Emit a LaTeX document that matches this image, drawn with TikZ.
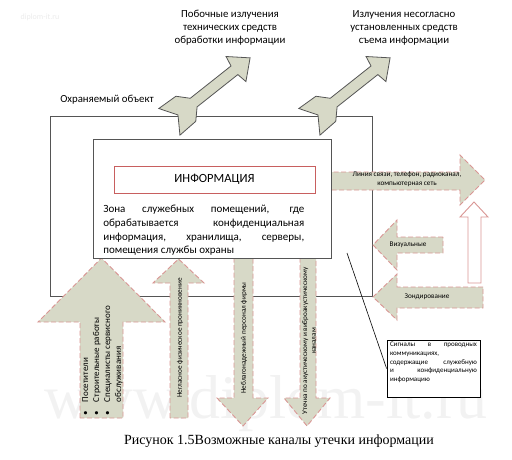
\documentclass[tikz,border=0pt]{standalone}
\usepackage{fontspec}
\setmainfont{Carlito}
\newfontfamily\capfont{Liberation Serif}
\usetikzlibrary{positioning}
\definecolor{sage}{RGB}{215,217,199}
\definecolor{rose}{RGB}{217,150,148}
\definecolor{brick}{RGB}{200,95,95}
\definecolor{frame}{RGB}{85,85,85}

\begin{document}
\begin{tikzpicture}[x=1pt,y=-1pt,semithick,
		chan/.style={fill=sage,draw=rose,line width=0.9pt,dash pattern=on 5pt off 2.5pt},
		emit/.style={fill=sage,draw=frame,line width=0.8pt},
		hollow/.style={fill=white,draw=rose,line width=0.9pt},
		chantext/.style={font=\fontsize{7.2}{8.8}\selectfont,inner sep=0pt},
		toplbl/.style={font=\fontsize{10.8}{13}\selectfont,align=center,inner sep=0pt}]
			\useasboundingbox (0,0) rectangle (512,460);
			\node[anchor=base,text=black!5,font=\capfont\fontsize{62}{62}\selectfont] (mark) at (266,418) {www.diplom-it.ru};
			\node[text=black!8,font=\fontsize{8}{9}\selectfont] (marksmall) at (40,17) {diplom-it.ru};
			\node[toplbl] (side) at (230,28) {Побочные излучения\\технических средств\\обработки информации};
			\node[toplbl] (rogue) at (404,28) {Излучения несогласно\\установленных средств\\съема информации};
			\node[toplbl] (guarded) at (107,100) {Охраняемый объект};
			\node[draw=frame,line width=1pt,minimum width=322pt,minimum height=179pt] (object) at (211,206.5) {};
			\begin{scope}[shift={(178,115)},rotate=38.4]
				\draw[emit] (92,0) -- (74,-16) -- (72,-5.5) -- (20,-5.5) -- (10,-16) -- (-11,-17) -- (0,0)
					-- (-11,17) -- (10,16) -- (20,5.5) -- (72,5.5) -- (74,16) -- cycle;
			\end{scope}
			\begin{scope}[shift={(318,115)},rotate=38.4]
				\draw[emit] (92,0) -- (74,-16) -- (72,-5.5) -- (20,-5.5) -- (10,-16) -- (-11,-17) -- (0,0)
					-- (-11,17) -- (10,16) -- (20,5.5) -- (72,5.5) -- (74,16) -- cycle;
			\end{scope}
			\draw[chan] (326,172) -- (460,172) -- (460,155) -- (485,180) -- (460,205) -- (460,190) -- (326,190) -- cycle;
			\draw[hollow] (468,283) -- (468,217) -- (460,217) -- (474,202) -- (488,217) -- (481,217) -- (481,283) -- cycle;
			\draw[chan] (443,237) -- (397,237) -- (397,220) -- (373,245) -- (397,270) -- (397,253) -- (443,253) -- cycle;
			\draw[chan] (483,287) -- (397,287) -- (397,274) -- (373,297) -- (397,320) -- (397,308) -- (483,308) -- cycle;
			\draw[chan] (80,418) -- (80,322) -- (38,322) -- (101.5,258) -- (165,322) -- (123,322) -- (123,418) -- cycle;
			\draw[chan] (170,418) -- (170,283) -- (153,283) -- (178.5,259) -- (204,283) -- (188,283) -- (188,418) -- cycle;
			\draw[chan] (234,250) -- (234,398) -- (217,398) -- (243,426) -- (268,398) -- (253,398) -- (253,250) -- cycle;
			\draw[chan] (300,250) -- (300,398) -- (284,398) -- (307,426) -- (330,398) -- (316,398) -- (316,250) -- cycle;
			\node[draw=frame,line width=1pt,fill=white,minimum width=238pt,minimum height=119pt] (zone) at (212,198.5) {};
			\node[draw=brick,line width=0.8pt,minimum width=201pt,minimum height=27pt,font=\fontsize{12.5}{14}\selectfont] (info) at (214.5,179.5) {ИНФОРМАЦИЯ};
			\node[anchor=north west,inner sep=0pt,text width=201pt,align=justify,font=\fontsize{11}{13.7}\selectfont] (rooms) at (103,205)
				{Зона служебных помещений, где\linebreak обрабатывается конфиденциальная\linebreak информация, хранилища, серверы,\linebreak помещения службы охраны};
			\node[chantext,align=center] (line) at (407,179) {Линия связи, телефон, радиоканал,\\компьютерная сеть};
			\node[chantext] (visual) at (408,245) {Визуальные};
			\node[chantext] (probe) at (427,297) {Зондирование};
			\node[rotate=90,anchor=north west,inner sep=0pt,font=\fontsize{9}{11}\selectfont] (visitors) at (80,416)
				{\begin{tabular}{@{}l@{\hspace{9pt}}l@{}}
					• & Посетители\\
					• & Строительные работы\\
					• & Специалисты сервисного\\
					& обслуживания
				\end{tabular}};
			\node[chantext,rotate=90] (intrude) at (180,338) {Негласное физическое проникновение};
			\node[chantext,rotate=90] (staff) at (244,338) {Неблагонадежный персонал фирмы};
			\node[chantext,rotate=90,align=center] (acoustic) at (309,341) {Утечка по акустическому и виброакустическому\\каналам};
			\node[draw,fill=white,line width=0.8pt,inner xsep=3pt,inner ysep=2pt] (signals) at (433.5,368.5)
				{\parbox[c][53pt][t]{87pt}{\fontsize{7}{8.8}\selectfont\hyphenpenalty=10000
				Сигналы в проводных\linebreak коммуникациях,\newline содержащие служебную\linebreak и конфиденциальную\linebreak информацию}};
			\coordinate (wire) at (347,253);
			\draw[line width=0.6pt] (wire) -- (signals.west);
			\node[font=\capfont\fontsize{14}{16}\selectfont] (caption) at (279,441) {Рисунок 1.5Возможные каналы утечки информации};
		\end{tikzpicture}
\end{document}
